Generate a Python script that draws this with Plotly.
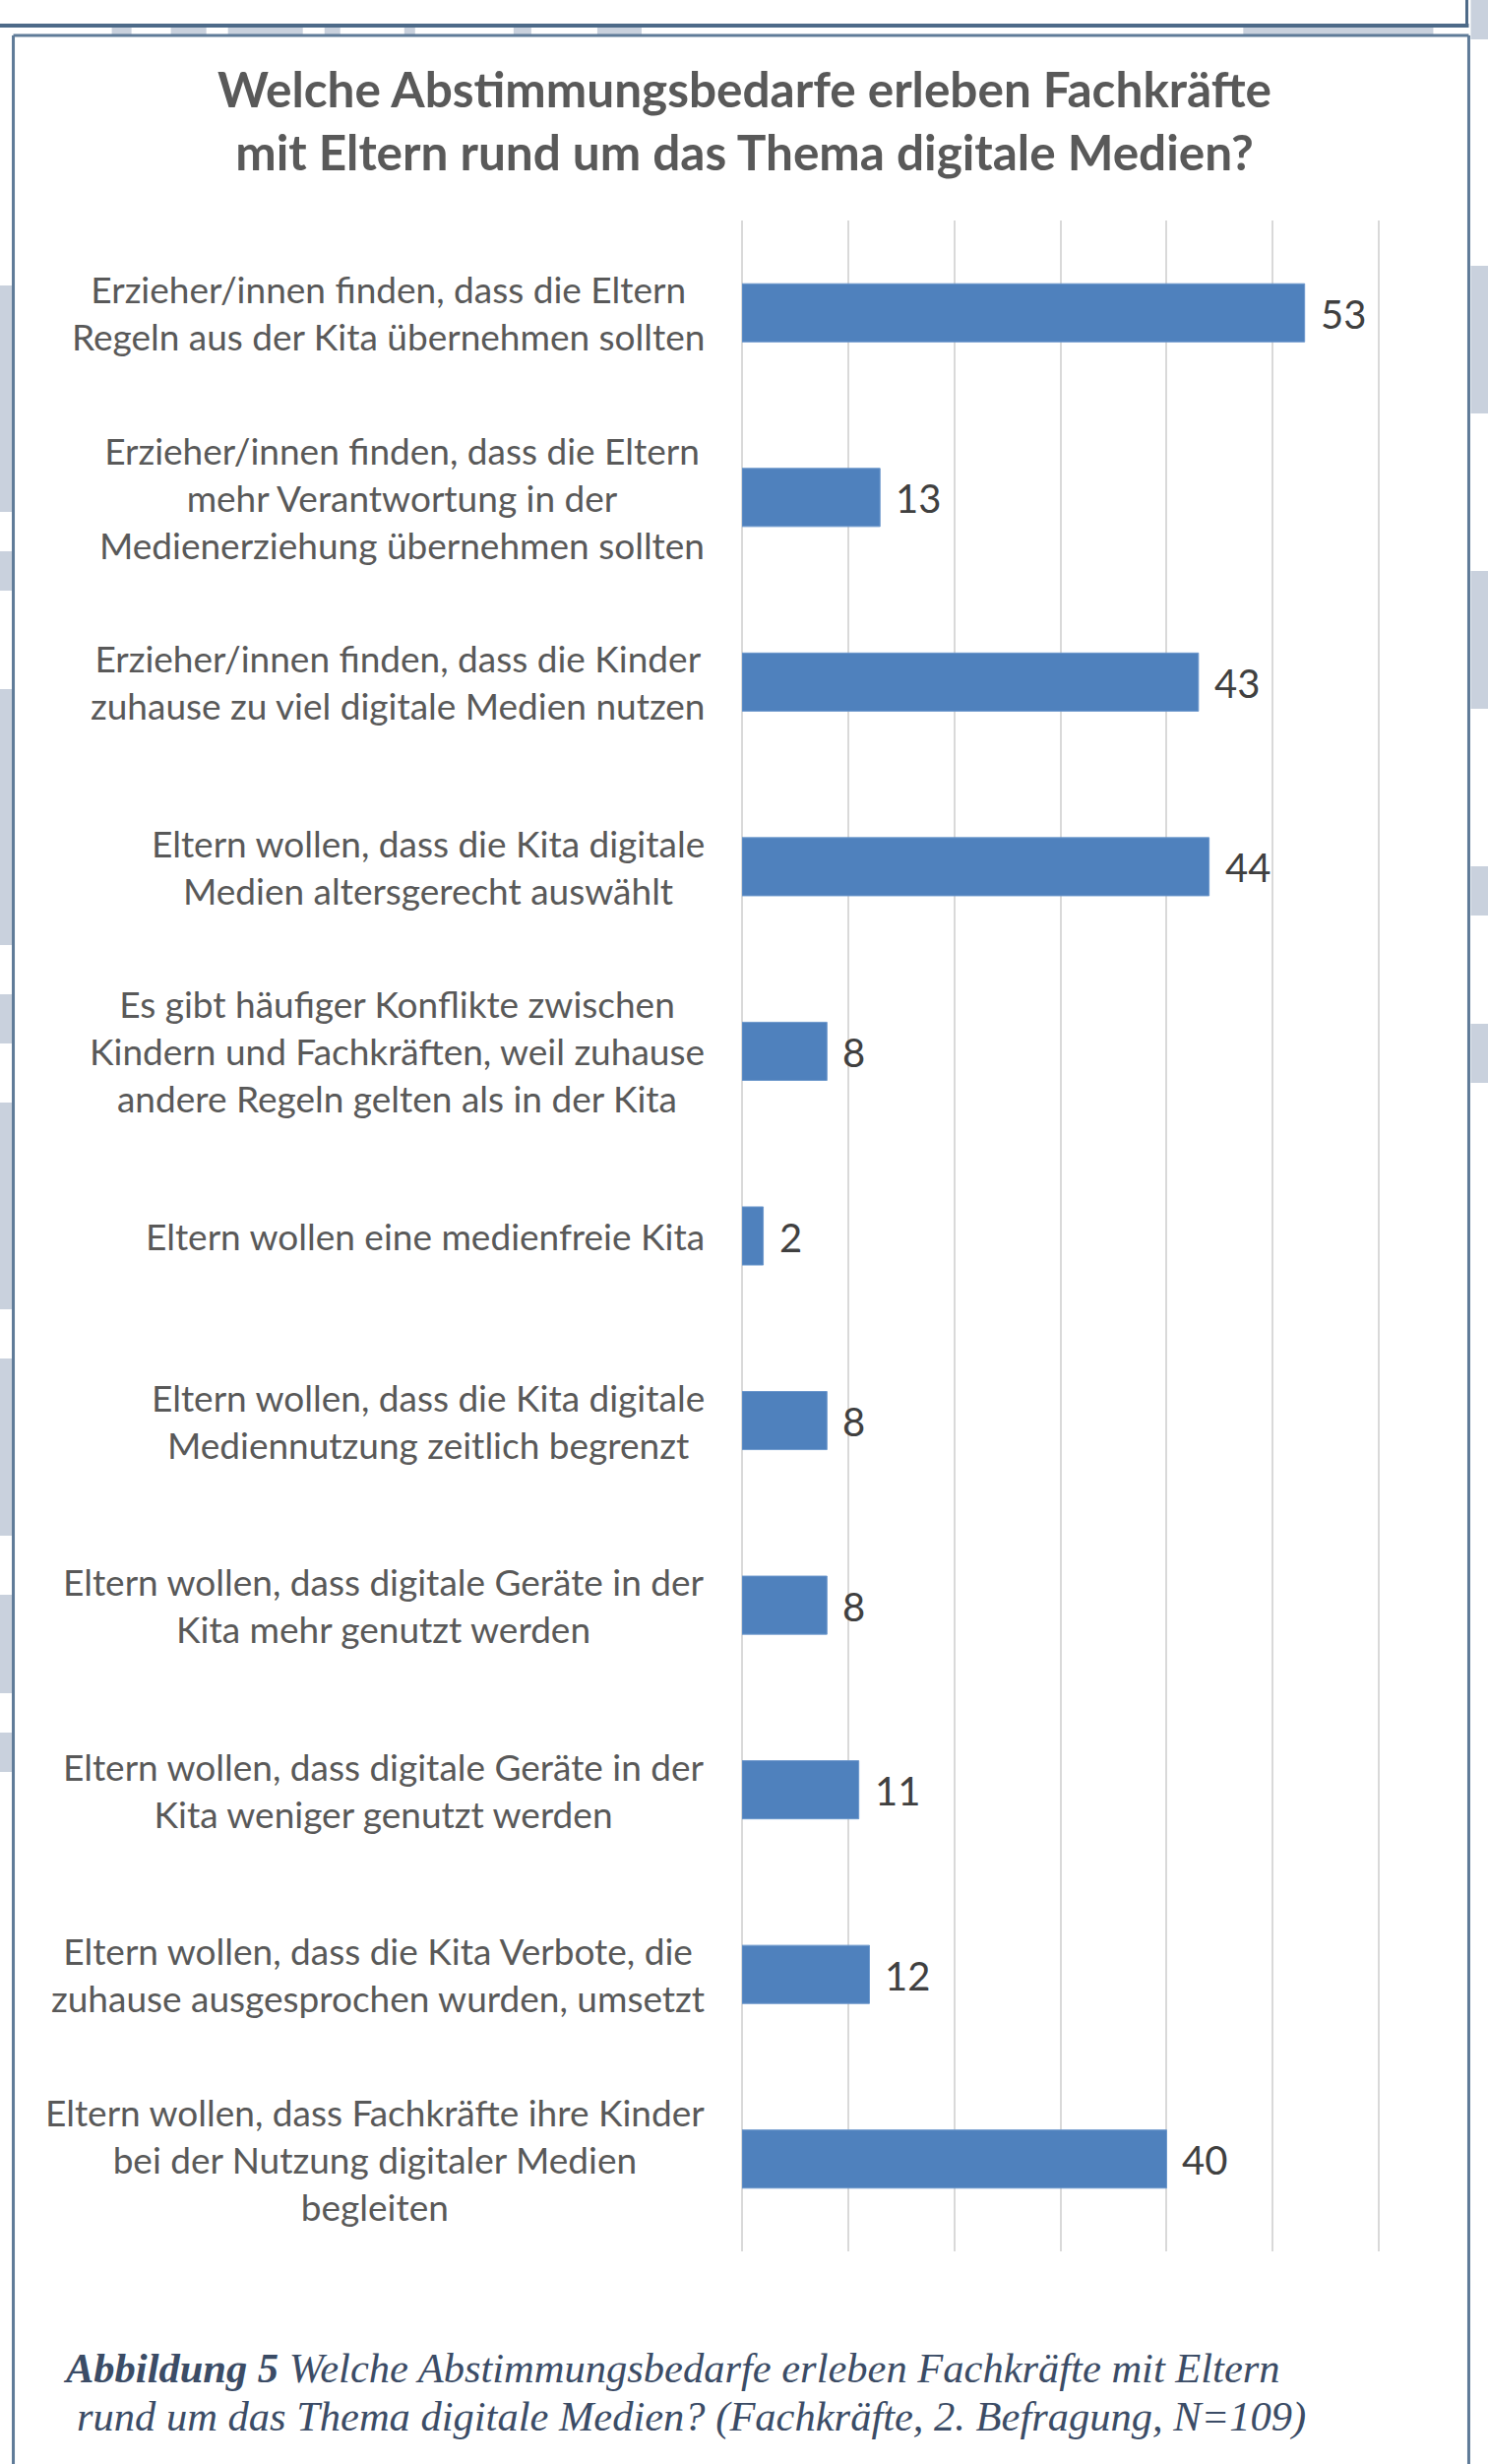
import plotly.graph_objects as go

# ---------------- data ----------------
categories = [
    "Erzieher/innen finden, dass die Eltern<br>Regeln aus der Kita übernehmen sollten",
    "Erzieher/innen finden, dass die Eltern<br>mehr Verantwortung in der<br>Medienerziehung übernehmen sollten",
    "Erzieher/innen finden, dass die Kinder<br>zuhause zu viel digitale Medien nutzen",
    "Eltern wollen, dass die Kita digitale<br>Medien altersgerecht auswählt",
    "Es gibt häufiger Konflikte zwischen<br>Kindern und Fachkräften, weil zuhause<br>andere Regeln gelten als in der Kita",
    "Eltern wollen eine medienfreie Kita",
    "Eltern wollen, dass die Kita digitale<br>Mediennutzung zeitlich begrenzt",
    "Eltern wollen, dass digitale Geräte in der<br>Kita mehr genutzt werden",
    "Eltern wollen, dass digitale Geräte in der<br>Kita weniger genutzt werden",
    "Eltern wollen, dass die Kita Verbote, die<br>zuhause ausgesprochen wurden, umsetzt",
    "Eltern wollen, dass Fachkräfte ihre Kinder<br>bei der Nutzung digitaler Medien<br>begleiten",
]
values = [53, 13, 43, 44, 8, 2, 8, 8, 11, 12, 40]

title_text = "Welche Abstimmungsbedarfe erleben Fachkräfte<br>mit Eltern rund um das Thema digitale Medien?"
caption_line1 = "<b>Abbildung 5</b> Welche Abstimmungsbedarfe erleben Fachkräfte mit Eltern"
caption_line2 = "rund um das Thema digitale Medien? (Fachkräfte, 2. Befragung, N=109)"

# ---------------- layout geometry (pixels) ----------------
W, H = 1512, 2503
XMAX = 61
UNIT = 10.78
L, T, B = 754, 224, 2287
R = L + XMAX * UNIT
PW, PH = R - L, B - T

def xp(px):
    return (px - L) / PW

def yp(py):
    return 1 - (py - T) / PH

BAR = "#4f81bd"
GRID = "#d9d9d9"
LABEL = "#595959"
VALUE = "#404040"
FRAME = "#5f7b98"
WM = "#c9d1dd"
CAPTION = "#3b4c66"

fig = go.Figure()
fig.add_trace(go.Bar(
    x=values, y=categories, orientation="h",
    marker=dict(color=BAR, line=dict(color="#6d98cc", width=1)),
    hoverinfo="skip",
))

annotations = []
# category labels
for c in categories:
    annotations.append(dict(
        x=xp(718), xref="paper", y=c, yref="y",
        text=c, showarrow=False, xanchor="right", yanchor="middle",
        align="center", font=dict(family="Lato", size=37, color=LABEL),
    ))
# value labels
for c, v in zip(categories, values):
    annotations.append(dict(
        x=v, xref="x", y=c, yref="y", text=str(v), showarrow=False,
        xanchor="left", yanchor="middle", xshift=14, yshift=-1,
        font=dict(family="Lato", size=40, color=VALUE),
    ))
# title
annotations.append(dict(
    x=xp(756), xref="paper", y=yp(122), yref="paper", text="<b>" + title_text + "</b>",
    showarrow=False, xanchor="center", yanchor="middle", align="center",
    font=dict(family="Lato", size=49.5, color=LABEL),
))
# caption
annotations.append(dict(
    x=xp(62), xref="paper", y=yp(2405), yref="paper", text="<i>" + caption_line1 + "</i>",
    showarrow=False, xanchor="left", yanchor="middle", align="left",
    font=dict(family="Liberation Serif", size=42.5, color=CAPTION),
))
annotations.append(dict(
    x=xp(76), xref="paper", y=yp(2455), yref="paper", text="<i>" + caption_line2 + "</i>",
    showarrow=False, xanchor="left", yanchor="middle", align="left",
    font=dict(family="Liberation Serif", size=42.5, color=CAPTION),
))

shapes = []
def rect(x0, y0, x1, y1, color):
    shapes.append(dict(type="rect", xref="paper", yref="paper",
                       x0=xp(x0), x1=xp(x1), y0=yp(y0), y1=yp(y1),
                       fillcolor=color, line=dict(width=0), layer="below"))

def line(x0, y0, x1, y1, color, width):
    shapes.append(dict(type="line", xref="paper", yref="paper",
                       x0=xp(x0), x1=xp(x1), y0=yp(y0), y1=yp(y1),
                       line=dict(color=color, width=width), layer="above"))

# watermark fragments visible outside the frame
for y0, y1 in [(290, 520), (560, 600), (700, 960), (1010, 1060), (1120, 1330),
               (1380, 1560), (1620, 1720), (1760, 1800)]:
    rect(0, y0, 13, y1, WM)
for y0, y1 in [(0, 40), (270, 420), (580, 720), (880, 930), (1040, 1100)]:
    rect(1494, y0, 1512, y1, WM)
for x0, x1 in [(114, 134), (174, 210), (232, 308), (330, 346), (411, 422),
               (522, 540), (607, 652), (1263, 1456)]:
    rect(x0, 28, x1, 35, WM)

# top box remnant and chart frame
line(0, 26, 1492, 26, "#4d6a88", 4)
line(1490, 0, 1490, 26, "#4d6a88", 3)
line(14, 36, 1492, 36, FRAME, 3)
line(14, 36, 14, 2510, FRAME, 3)
line(1492, 36, 1492, 2510, FRAME, 3)

fig.update_layout(
    width=W, height=H,
    margin=dict(l=L, r=W - R, t=T, b=H - B, pad=0),
    paper_bgcolor="white", plot_bgcolor="white",
    showlegend=False,
    bargap=0.685,
    xaxis=dict(range=[0, XMAX], tick0=0, dtick=10, showgrid=True, gridcolor=GRID, gridwidth=1.5,
               zeroline=True, zerolinecolor=GRID, zerolinewidth=1.5,
               showticklabels=False, showline=False, ticks="", fixedrange=True),
    yaxis=dict(autorange="reversed", showticklabels=False, showgrid=False,
               zeroline=False, showline=False, ticks="", fixedrange=True),
    annotations=annotations, shapes=shapes,
)

fig.write_html("out.html")
